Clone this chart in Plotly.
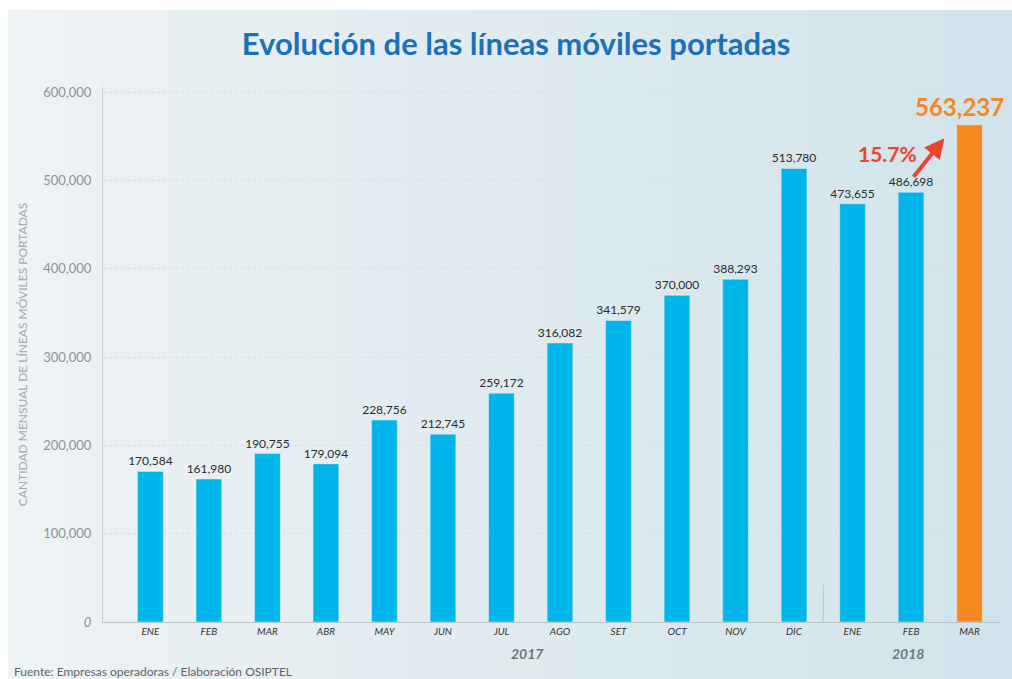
import plotly.graph_objects as go

months = ["ENE", "FEB", "MAR", "ABR", "MAY", "JUN", "JUL", "AGO", "SET", "OCT",
          "NOV", "DIC", "ENE", "FEB", "MAR"]
lines_ported = [170584, 161980, 190755, 179094, 228756, 212745, 259172, 316082,
                341579, 370000, 388293, 513780, 473655, 486698, 563237]
years = ["2017", "2018"]
y_ticks = [0, 100000, 200000, 300000, 400000, 500000, 600000]
growth_label = "15.7%"

BLUE = "#00b5ea"
ORANGE = "#f5891f"
x = list(range(len(months)))
colors = [BLUE] * (len(months) - 1) + [ORANGE]
labels = [f"{v:,}" for v in lines_ported[:-1]] + [""]

fig = go.Figure()
fig.add_trace(go.Bar(
    x=x, y=lines_ported, marker_color=colors, width=0.44,
    text=labels, textposition="outside", cliponaxis=False, constraintext="none",
    textfont=dict(family="Lato", size=12, color="#2b2b2b"),
    hoverinfo="skip",
))

# background: soft left-to-right gradient built from thin strips
n_strips = 30
x_left, x_right = -103 / 897, 1 + 12 / 897
for i in range(n_strips):
    t = i / (n_strips - 1)
    r = int(0xee + (0xd2 - 0xee) * t)
    g = int(0xf3 + (0xe4 - 0xf3) * t)
    b = int(0xf5 + (0xeb - 0xf5) * t)
    x0 = x_left + (x_right - x_left) * i / n_strips
    x1 = x_left + (x_right - x_left) * (i + 1) / n_strips + 0.002
    fig.add_shape(type="rect", xref="paper", yref="paper", x0=x0, x1=x1,
                  y0=-57 / 535, y1=1 + 87 / 535, fillcolor=f"rgb({r},{g},{b})",
                  line_width=0, layer="below")

# white frame at the top and left of the picture
fig.add_shape(type="rect", xref="paper", yref="paper", x0=-0.2, x1=1.1,
              y0=1 + 77 / 535, y1=1.3, fillcolor="white", line_width=0, layer="above")
fig.add_shape(type="rect", xref="paper", yref="paper", x0=-0.2, x1=-95 / 897,
              y0=-0.3, y1=1.3, fillcolor="white", line_width=0, layer="above")

# last bar value, big and orange
fig.add_annotation(x=x[-1], y=lines_ported[-1], text=f"<b>{lines_ported[-1]:,}</b>",
                   showarrow=False, yanchor="bottom", yshift=2, xshift=-10,
                   font=dict(family="Lato", size=24, color=ORANGE))
# growth arrow
fig.add_annotation(x=13.57, y=548000, ax=-32, ay=40, showarrow=True,
                   arrowhead=2, arrowsize=1, arrowwidth=4, arrowcolor="#e8452c", text="")
fig.add_annotation(x=12.6, y=531000, text=f"<b>{growth_label}</b>", showarrow=False,
                   font=dict(family="Lato", size=21, color="#e8452c"))

# year labels under the month ticks
fig.add_annotation(x=6.45, y=-0.078, yref="paper", text=f"<b><i>{years[0]}</i></b>",
                   showarrow=False, font=dict(family="Lato", size=14, color="#6f767b"))
fig.add_annotation(x=12.95, y=-0.078, yref="paper", text=f"<b><i>{years[1]}</i></b>",
                   showarrow=False, font=dict(family="Lato", size=14, color="#6f767b"))

# divider between years
fig.add_shape(type="line", x0=11.5, x1=11.5, y0=0, y1=42000,
              line=dict(color="#b9c2c7", width=1))

fig.add_annotation(x=12 / 897 - 103 / 897, y=-57 / 535, xref="paper", yref="paper",
                   yanchor="bottom", xanchor="left", yshift=-2,
                   text="Fuente: Empresas operadoras / Elaboración OSIPTEL",
                   showarrow=False, font=dict(family="Lato", size=12, color="#5d6469"))

fig.update_layout(
    width=1012, height=679,
    paper_bgcolor="#e7eff2", plot_bgcolor="rgba(0,0,0,0)",
    margin=dict(l=103, r=12, t=87, b=57),
    showlegend=False,
    title=dict(text="<b>Evolución de las líneas móviles portadas</b>", x=0.51,
               xanchor="center", y=0.935, yanchor="middle",
               font=dict(family="Lato", size=31, color="#1c70b8")),
)
fig.update_xaxes(
    range=[-0.81, 14.52], tickvals=x, ticktext=[f"<i>{m}</i>" for m in months],
    tickfont=dict(family="Lato", size=10, color="#333"), showgrid=False,
    showline=True, linecolor="#b9c2c7", linewidth=1, ticks="", zeroline=False,
)
fig.update_yaxes(
    range=[0, 606000], tickvals=y_ticks,
    ticktext=["<i>0</i>"] + [f"{v:,}" for v in y_ticks[1:]],
    tickfont=dict(family="Lato", size=13, color="#8b9297"), ticklabelstandoff=8,
    showgrid=True, gridcolor="#d6e0e4", griddash="dot", gridwidth=1,
    showline=True, linecolor="#c9d1d5", linewidth=1, zeroline=False, ticks="",
    title=dict(text="CANTIDAD MENSUAL DE LÍNEAS MÓVILES PORTADAS", standoff=12,
               font=dict(family="Lato", size=12, color="#a2a9ae")),
)

fig.write_html("out.html", config={"displayModeBar": False},
               post_script="document.body.style.margin = '0';")
